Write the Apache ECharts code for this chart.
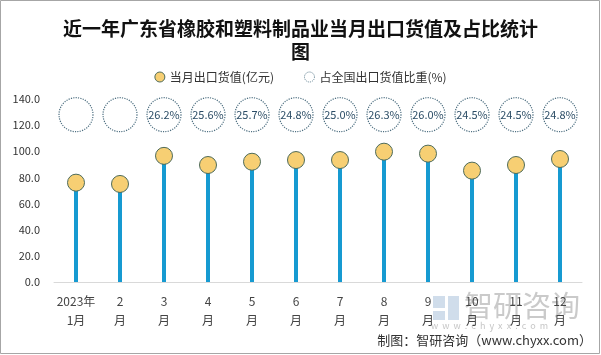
<!DOCTYPE html>
<html><head><meta charset="utf-8">
<script src="https://cdn.jsdelivr.net/npm/echarts@6/dist/echarts.min.js"></script>
<style>html,body{margin:0;padding:0;background:#fff}#c{width:601px;height:355px}</style>
</head><body><div id="c"></div>
<script>
const categories = ['2023年\n1月','2\n月','3\n月','4\n月','5\n月','6\n月','7\n月','8\n月','9\n月','10\n月','11\n月','12\n月'];
const exportValues = [76.0, 75.0, 96.5, 89.5, 92.0, 93.3, 93.3, 99.7, 98.2, 85.2, 89.5, 94.1];
const shareValues = [null, null, 26.2, 25.6, 25.7, 24.8, 25.0, 26.3, 26.0, 24.5, 24.5, 24.8];
const yTicks = { min: 0, max: 140, interval: 20 };
const shareRowLevel = 128;

const FONT = '"Noto Sans CJK SC", sans-serif';
const chart = echarts.init(document.getElementById('c'), null, { renderer: 'canvas' });
chart.setOption({
  animation: false,
  backgroundColor: '#fff',
  title: {
    text: '近一年广东省橡胶和塑料制品业当月出口货值及占比统计\n图',
    left: 'center', top: 12,
    textStyle: { fontFamily: FONT, fontSize: 19, fontWeight: 'bold', color: '#111', lineHeight: 23 }
  },
  legend: {
    top: 66, left: 'center', itemGap: 30, itemWidth: 10, itemHeight: 10,
    textStyle: { fontFamily: FONT, fontSize: 12, color: '#333' },
    data: [
      { name: '当月出口货值(亿元)', icon: 'circle', itemStyle: { color: '#f7cf73', borderColor: '#4e6b5a', borderWidth: 1 } },
      { name: '占全国出口货值比重(%)', icon: 'circle', itemStyle: { color: '#fff', borderColor: '#5f7f90', borderWidth: 1, borderType: 'dotted' } }
    ]
  },
  grid: { left: 54, right: 19, top: 99, bottom: 73 },
  xAxis: {
    type: 'category', data: categories,
    axisLine: { lineStyle: { color: '#d9d9d9' } },
    axisTick: { show: false },
    axisLabel: { fontFamily: FONT, fontSize: 12, color: '#444', lineHeight: 19, margin: 10, interval: 0 }
  },
  yAxis: {
    type: 'value', min: yTicks.min, max: yTicks.max, interval: yTicks.interval,
    axisLine: { show: false }, axisTick: { show: false }, splitLine: { show: false },
    axisLabel: { fontFamily: FONT, fontSize: 11, color: '#333', margin: 14, formatter: v => v.toFixed(1) }
  },
  series: [
    {
      name: 'stem', type: 'bar', data: exportValues, barWidth: 4,
      itemStyle: { color: '#169ad1' }, silent: true, z: 2
    },
    {
      name: '当月出口货值(亿元)', type: 'scatter', data: exportValues, symbolSize: 17,
      itemStyle: { color: '#f7cf73', borderColor: '#4e6b5a', borderWidth: 1, opacity: 1 }, z: 3
    },
    {
      name: '占全国出口货值比重(%)', type: 'scatter',
      data: shareValues.map((v, i) => [i, shareRowLevel, v]),
      symbolSize: 34,
      itemStyle: { color: '#fff', borderColor: '#4f7082', borderWidth: 1.2, borderType: 'dotted', opacity: 1 },
      label: {
        show: true, position: 'inside', fontFamily: FONT, fontSize: 11, color: '#2c4d66',
        formatter: p => p.value[2] == null ? '' : p.value[2].toFixed(1) + '%'
      }, z: 3
    }
  ],
  graphic: [
    { type: 'rect', shape: { x: 0.5, y: 0.5, width: 599, height: 353 }, style: { fill: 'none', stroke: '#a6a6a6', lineWidth: 1 }, silent: true },
    { type: 'rect', shape: { x: 433, y: 296, width: 12, height: 12 }, style: { fill: 'rgba(150,180,210,0.45)' }, silent: true, z: 0 },
    { type: 'rect', shape: { x: 448, y: 296, width: 11, height: 24 }, style: { fill: 'rgba(150,180,210,0.45)' }, silent: true, z: 0 },
    { type: 'rect', shape: { x: 433, y: 311, width: 12, height: 9 }, style: { fill: 'rgba(150,180,210,0.45)' }, silent: true, z: 0 },
    { type: 'text', left: 464, top: 291, style: { text: '智研咨询', fontFamily: FONT, fontSize: 29, fill: 'rgba(150,150,150,0.5)' }, silent: true, z: 0 },
    { type: 'text', left: 431, top: 321, style: { text: 'w  w  w  .  c  h  y  x  x  .  c  o  m', fontFamily: FONT, fontSize: 9, fill: 'rgba(150,150,150,0.55)' }, silent: true, z: 0 },
    { type: 'text', right: 9, top: 334, style: { text: '制图：智研咨询（www.chyxx.com）', fontFamily: FONT, fontSize: 13, fill: '#333' }, silent: true }
  ]
});
</script></body></html>
